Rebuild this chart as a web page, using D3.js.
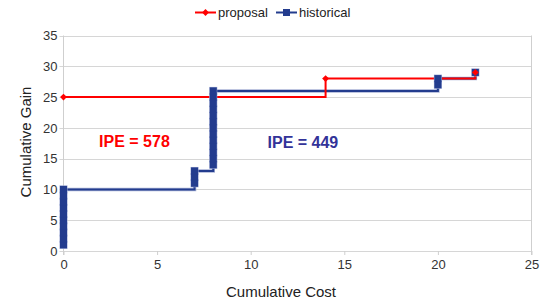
<!DOCTYPE html>
<html>
<head>
<meta charset="utf-8">
<script src="https://cdn.jsdelivr.net/npm/d3@7"></script>
<style>
  body { margin: 0; background: #fff; }
  svg { display: block; font-family: "Liberation Sans", Arial, sans-serif; }
</style>
</head>
<body>
<svg id="chart" width="545" height="301"></svg>
<script>
// ---- data ----
const proposalX = [0, 14, 22];
const proposalY = [25, 28, 29];
const historicalX = [0,0,0,0,0,0,0,0,0,0, 7,7,7, 8,8,8,8,8,8,8,8,8,8,8,8,8, 20,20, 22];
const historicalY = [1,2,3,4,5,6,7,8,9,10, 11,12,13, 14,15,16,17,18,19,20,21,22,23,24,25,26, 27,28, 29];
const xTicks = [0, 5, 10, 15, 20, 25];
const yTicks = [0, 5, 10, 15, 20, 25, 30, 35];
const seriesNames = ["proposal", "historical"];
const annotations = [
  { text: "IPE = 578", x: 1.9, y: 16.9, series: 0 },
  { text: "IPE = 449", x: 10.9, y: 16.8, series: 1 }
];

const red = "#ff0000";
const blue = "#233c8e";
const blueText = "#333399";

const svg = d3.select("#chart");
const m = { left: 63.5, right: 531.5, top: 35.5, bottom: 251 };
const x = d3.scaleLinear().domain([0, 25]).range([m.left, m.right]);
const y = d3.scaleLinear().domain([0, 35]).range([m.bottom, m.top]);

// gridlines
svg.append("g").selectAll("line").data(yTicks).join("line")
  .attr("x1", m.left - 4).attr("x2", m.right)
  .attr("y1", d => Math.round(y(d)) + 0.5).attr("y2", d => Math.round(y(d)) + 0.5)
  .attr("stroke", "#d6d6d6").attr("stroke-width", 1);
// side borders
svg.append("line").attr("x1", m.left).attr("x2", m.left).attr("y1", m.top).attr("y2", m.bottom + 4)
  .attr("stroke", "#cfcfcf");
svg.append("line").attr("x1", m.right).attr("x2", m.right).attr("y1", m.top).attr("y2", m.bottom + 4)
  .attr("stroke", "#cfcfcf");

// axes
const yAxis = svg.append("g").attr("transform", `translate(${m.left},0)`)
  .call(d3.axisLeft(y).tickValues(yTicks).tickSize(0).tickPadding(6));
yAxis.select(".domain").remove();
yAxis.selectAll("text").attr("font-size", 13).attr("fill", "#333").attr("font-family", "Liberation Sans, Arial, sans-serif");

const xAxis = svg.append("g").attr("transform", `translate(0,${m.bottom})`)
  .call(d3.axisBottom(x).tickValues(xTicks).tickSize(4).tickPadding(5));
xAxis.select(".domain").remove();
xAxis.selectAll("line").attr("stroke", "#cfcfcf");
xAxis.selectAll("text").attr("font-size", 13).attr("fill", "#333").attr("font-family", "Liberation Sans, Arial, sans-serif");

// axis titles
svg.append("text").attr("x", 281).attr("y", 297).attr("text-anchor", "middle")
  .attr("font-size", 15).attr("fill", "#222").text("Cumulative Cost");
svg.append("text").attr("transform", "translate(31,142) rotate(-90)").attr("text-anchor", "middle")
  .attr("font-size", 15).attr("fill", "#222").text("Cumulative Gain");

const line = d3.line().curve(d3.curveStepAfter).x(d => x(d[0])).y(d => y(d[1]));
const prop = proposalX.map((v, i) => [v, proposalY[i]]);
const hist = historicalX.map((v, i) => [v, historicalY[i]]);

// historical line with soft halo
svg.append("path").datum(hist).attr("d", line).attr("fill", "none")
  .attr("stroke", "#a9b3d6").attr("stroke-width", 3.5);
svg.append("path").datum(hist).attr("d", line).attr("fill", "none")
  .attr("stroke", blue).attr("stroke-width", 2);

// proposal line
svg.append("path").datum(prop).attr("d", line).attr("fill", "none")
  .attr("stroke", red).attr("stroke-width", 2);

// historical markers (halo then fill)
svg.append("g").selectAll("rect").data(hist).join("rect")
  .attr("x", d => x(d[0]) - 4).attr("y", d => y(d[1]) - 4)
  .attr("width", 8).attr("height", 8)
  .attr("fill", "#9aa6d2");
svg.append("g").selectAll("rect").data(hist).join("rect")
  .attr("x", d => x(d[0]) - 3.5).attr("y", d => y(d[1]) - 3.5)
  .attr("width", 7).attr("height", 7)
  .attr("fill", blue);

// proposal markers
const diamond = d3.symbol().type(d3.symbolDiamond2).size(30);
svg.append("g").selectAll("path").data(prop).join("path")
  .attr("transform", d => `translate(${x(d[0])},${y(d[1])})`)
  .attr("d", diamond).attr("fill", red);

// annotations
svg.append("g").selectAll("text").data(annotations).join("text")
  .attr("x", d => x(d.x)).attr("y", d => y(d.y))
  .attr("font-size", 16).attr("font-weight", "bold")
  .attr("fill", d => d.series === 0 ? red : blueText)
  .text(d => d.text);

// legend
const lg = svg.append("g");
const legendItems = [
  { name: seriesNames[0], x0: 195, color: red, marker: "diamond" },
  { name: seriesNames[1], x0: 276, color: blue, marker: "square" }
];
legendItems.forEach(it => {
  lg.append("line").attr("x1", it.x0).attr("x2", it.x0 + 21).attr("y1", 12.5).attr("y2", 12.5)
    .attr("stroke", it.color).attr("stroke-width", 2);
  if (it.marker === "diamond") {
    lg.append("path").attr("transform", `translate(${it.x0 + 10.5},12.5)`).attr("d", diamond).attr("fill", it.color);
  } else {
    lg.append("rect").attr("x", it.x0 + 7).attr("y", 9).attr("width", 7).attr("height", 7).attr("fill", it.color);
  }
  lg.append("text").attr("x", it.x0 + 23).attr("y", 17).attr("font-size", 13).attr("fill", "#222").text(it.name);
});
</script>
</body>
</html>
